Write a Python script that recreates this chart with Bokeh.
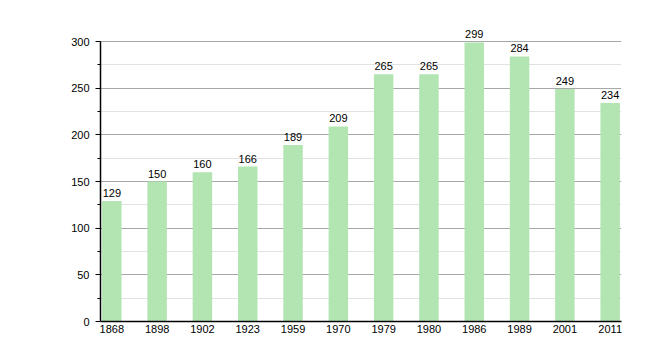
from bokeh.plotting import figure
from bokeh.models import ColumnDataSource, LabelSet, FixedTicker, Range1d
from bokeh.core.properties import value
from bokeh.embed import file_html
from bokeh.resources import INLINE

years = ["1868", "1898", "1902", "1923", "1959", "1970", "1979", "1980", "1986", "1989", "2001", "2011"]
population = [129, 150, 160, 166, 189, 209, 265, 265, 299, 284, 249, 234]
y_ticks = [0, 50, 100, 150, 200, 250, 300]
y_minor = [25, 75, 125, 175, 225, 275]

xs = list(range(len(years)))
src = ColumnDataSource(dict(x=xs, y=population, lab=[str(v) for v in population]))

p = figure(width=650, height=350, output_backend="svg", toolbar_location=None,
           x_range=Range1d(-0.25, len(years) - 0.75), y_range=Range1d(0, 315),
           min_border_left=100, min_border_right=29, min_border_top=27, min_border_bottom=29)
p.outline_line_color = None
p.background_fill_color = "white"
p.border_fill_color = "white"

p.vbar(x="x", top="y", width=0.43, source=src, fill_color="#b2e5b2", line_color=None)

labels = LabelSet(x="x", y="y", text="lab", source=src, text_align="center",
                  text_baseline="bottom", y_offset=4, text_font_size="11px",
                  text_font=value("Liberation Sans"), text_color="black")
p.add_layout(labels)

p.xaxis.ticker = FixedTicker(ticks=xs)
p.xaxis.major_label_overrides = {i: y for i, y in enumerate(years)}
p.xaxis.major_tick_line_color = None
p.xaxis.major_tick_out = 0
p.xaxis.major_tick_in = 0
p.xaxis.minor_tick_line_color = None
p.xaxis.axis_line_color = "black"
p.xaxis.axis_line_width = 1.5
p.xaxis.major_label_text_font = "Liberation Sans"
p.xaxis.major_label_text_font_size = "11px"
p.xaxis.major_label_text_color = "black"
p.xaxis.major_label_standoff = 3

p.yaxis.ticker = FixedTicker(ticks=y_ticks, minor_ticks=y_minor)
p.yaxis.bounds = (0, 300)
p.yaxis.axis_line_color = "black"
p.yaxis.axis_line_width = 1.5
p.yaxis.major_tick_out = 5
p.yaxis.major_tick_in = 0
p.yaxis.minor_tick_out = 3
p.yaxis.minor_tick_in = 0
p.yaxis.major_label_text_font = "Liberation Sans"
p.yaxis.major_label_text_font_size = "11px"
p.yaxis.major_label_text_color = "black"
p.yaxis.major_label_standoff = 6

p.xgrid.grid_line_color = None
p.ygrid.grid_line_color = "#a8a8a8"
p.ygrid.minor_grid_line_color = "#e2e2e2"

open("out.html", "w").write(file_html(p, INLINE))
